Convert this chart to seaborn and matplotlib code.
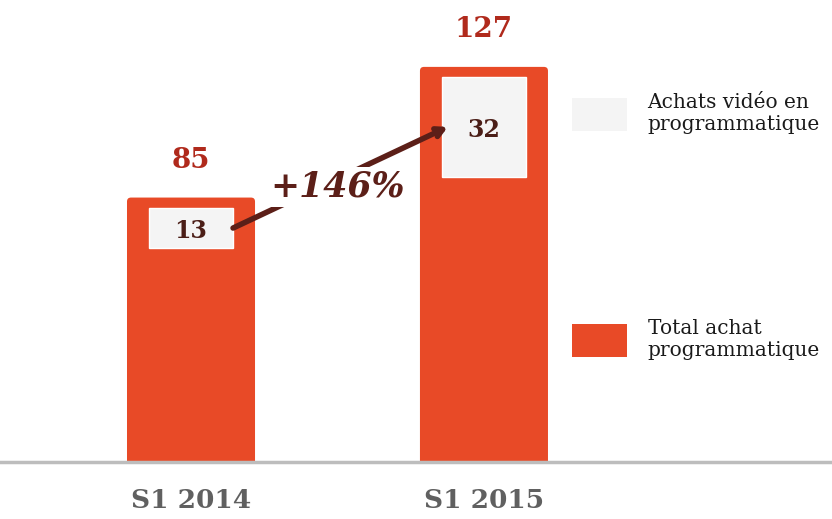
import numpy as np
import pandas as pd
import seaborn as sns
import matplotlib.pyplot as plt
from matplotlib.patches import FancyBboxPatch, Patch

periods = ["S1 2014", "S1 2015"]
total_achat = [85, 127]
achat_video = [13, 32]
legend_labels = ["Achats vidéo en\nprogrammatique", "Total achat\nprogrammatique"]

orange = "#E84A27"
light = "#F4F4F4"

df = pd.DataFrame({"period": periods, "total": total_achat, "video": achat_video})

sns.set_style("white")
plt.rcParams["font.family"] = ["DejaVu Serif"]

fig = plt.figure(figsize=(8.32, 5.19), dpi=100)
ax = fig.add_axes([0, 57 / 519, 1, 462 / 519])

bar_w = 0.437
sns.barplot(data=df, x="period", y="total", color=orange, saturation=1,
            width=bar_w, ax=ax)
ax.set_xlim(-0.652, 2.188)
ax.set_ylim(0, 148.5)

# rounded top corners
aspect = 293 / 3.11
for p in list(ax.patches):
    x0, w, h = p.get_x(), p.get_width(), p.get_height()
    rb = FancyBboxPatch((x0, -4), w, h + 4,
                        boxstyle="round,pad=0,rounding_size=%f" % (4 / 293),
                        mutation_aspect=aspect, fc=orange, ec="none", zorder=2)
    p.remove()
    ax.add_patch(rb)

# inner bars (video share)
gap = 3.3
inner_w = 0.287
inner_bottom = [t - gap - v for t, v in zip(total_achat, achat_video)]
ax.bar(range(len(periods)), achat_video, bottom=inner_bottom, width=inner_w,
       color=light, zorder=3)

for i, (t, v, b) in enumerate(zip(total_achat, achat_video, inner_bottom)):
    ax.text(i, t + 9.5, str(t), ha="center", va="baseline", fontsize=20,
            fontweight="bold", color="#B02A1C", zorder=5)
    ax.text(i, b + v / 2 - 1, str(v), ha="center", va="center", fontsize=17,
            fontweight="bold", color="#4B1E17", zorder=5)

# growth arrow
start = (0 + inner_w / 2, inner_bottom[0] + achat_video[0] / 2)
end = (1 - inner_w / 2 + 0.02, inner_bottom[1] + achat_video[1] / 2)
ax.annotate("", xy=end, xytext=start,
            arrowprops=dict(arrowstyle="->,head_length=0.55,head_width=0.3",
                            color="#5C1F18", lw=4, shrinkA=0, shrinkB=0),
            zorder=4)
growth = (achat_video[1] / achat_video[0] - 1) * 100
mid = ((start[0] + end[0]) / 2 - 0.01, (start[1] + end[1]) / 2 - 3)
ax.text(mid[0], mid[1], "+%d%%" % round(growth), ha="center", va="center",
        fontsize=25, fontweight="bold", fontstyle="italic", color="#5C1F18",
        zorder=6, bbox=dict(fc="white", ec="none", pad=2))

# axes styling
for s in ["top", "left", "right"]:
    ax.spines[s].set_visible(False)
ax.spines["bottom"].set_color("#BDBDBD")
ax.spines["bottom"].set_linewidth(2.5)
ax.set_yticks([])
ax.set_xlabel("")
ax.set_ylabel("")
ax.tick_params(axis="x", length=0, pad=19, labelsize=19, labelcolor="#606060")
for lab in ax.get_xticklabels():
    lab.set_fontweight("bold")

handles = [Patch(fc=light, ec="none"), Patch(fc=orange, ec="none")]
fs = 14.5
leg = ax.legend(handles, legend_labels, loc="upper left",
                bbox_to_anchor=(572 / 832, 1 - 93 / 462), frameon=False,
                fontsize=fs, handlelength=2.75, handleheight=2.14,
                handletextpad=1.0, labelspacing=9.15, borderpad=0,
                borderaxespad=0)
for t in leg.get_texts():
    t.set_color("#1A1A1A")
    t.set_linespacing(1.22)

fig.savefig("out.png", dpi=100)
